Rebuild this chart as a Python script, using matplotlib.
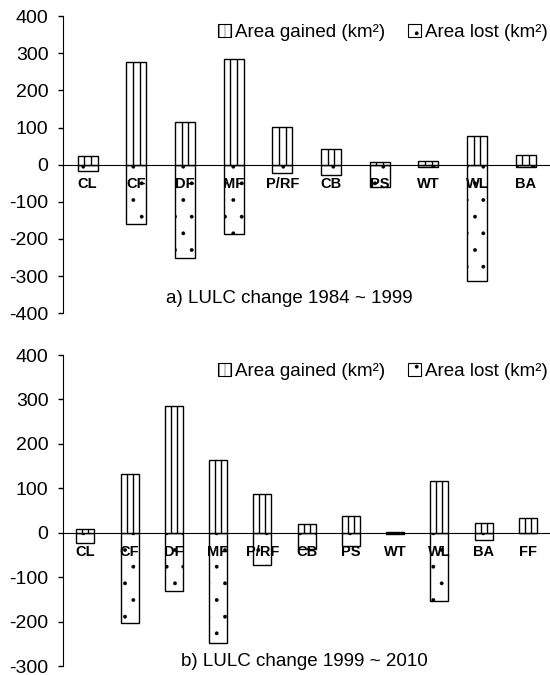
import numpy as np
import matplotlib.pyplot as plt
from matplotlib.patches import Patch

plt.rcParams['font.family'] = ['Liberation Sans', 'DejaVu Sans']
plt.rcParams['axes.unicode_minus'] = False
plt.rcParams['hatch.linewidth'] = 0.3
plt.rcParams['hatch.color'] = '#666666'

# 1984 ~ 1999
cats_a = ['CL', 'CF', 'DF', 'MF', 'P/RF', 'CB', 'PS', 'WT', 'WL', 'BA']
gained_a = [24, 276, 116, 286, 102, 41, 7, 9, 77, 26]
lost_a = [-16, -159, -251, -187, -23, -29, -60, -6, -313, -6]

# 1999 ~ 2010
cats_b = ['CL', 'CF', 'DF', 'MF', 'P/RF', 'CB', 'PS', 'WT', 'WL', 'BA', 'FF']
gained_b = [9, 133, 286, 164, 88, 19, 38, 2, 116, 22, 33]
lost_b = [-22, -203, -130, -248, -72, -36, -30, -2, -154, -16, 0]


def draw_panel(ax, cats, gained, lost, ylim, caption, capx, capy):
    x = np.arange(len(cats))
    w = 0.41
    ax.bar(x, lost, w, color='white', edgecolor='black', linewidth=1.0, hatch='.', zorder=2)
    ax.bar(x, gained, w, color='white', edgecolor='black', linewidth=1.0, zorder=2)
    # vertical stripes inside the gained bars
    for xi, g in zip(x, gained):
        ax.vlines([xi - w / 6, xi + w / 6], 0, g, color='black', linewidth=1.0, zorder=3)

    ax.set_xlim(-0.5, len(cats) - 0.5)
    ax.set_ylim(*ylim)
    ax.set_yticks(np.arange(ylim[0], ylim[1] + 1, 100))
    ax.tick_params(axis='y', labelsize=14, direction='out', length=3.6, width=1, pad=7)

    ax.spines['top'].set_visible(False)
    ax.spines['right'].set_visible(False)
    ax.spines['bottom'].set_position(('data', 0))
    ax.spines['bottom'].set_zorder(4)
    ax.set_xticks(x)
    ax.set_xticklabels(cats, fontsize=10.5, fontweight='bold')
    ax.tick_params(axis='x', length=0, pad=8.5)
    ax.xaxis.set_zorder(5)

    ax.text(capx, capy, caption, transform=ax.transAxes, fontsize=13.5,
            ha='center', va='center')

    handles = [Patch(facecolor='white', edgecolor='black', hatch='|||', linewidth=0.8),
               Patch(facecolor='white', edgecolor='black', hatch='.', linewidth=0.8)]
    ax.legend(handles, ['Area gained (km\u00b2)', 'Area lost (km\u00b2)'], ncol=2,
              loc='upper right', bbox_to_anchor=(1.01, 1.0), frameon=False,
              fontsize=13.5, handlelength=0.7, handleheight=0.7, handletextpad=0.2,
              columnspacing=1.2, borderaxespad=0)


fig = plt.figure(figsize=(5.5, 6.75), dpi=100)
ax1 = fig.add_axes([0.115, 0.536, 0.885, 0.44])
ax2 = fig.add_axes([0.115, 0.0133, 0.885, 0.4607])

draw_panel(ax1, cats_a, gained_a, lost_a, (-400, 400), 'a) LULC change 1984 ~ 1999', 0.465, 0.05)
draw_panel(ax2, cats_b, gained_b, lost_b, (-300, 400), 'b) LULC change 1999 ~ 2010', 0.495, 0.015)

fig.savefig('out.png', dpi=100)
